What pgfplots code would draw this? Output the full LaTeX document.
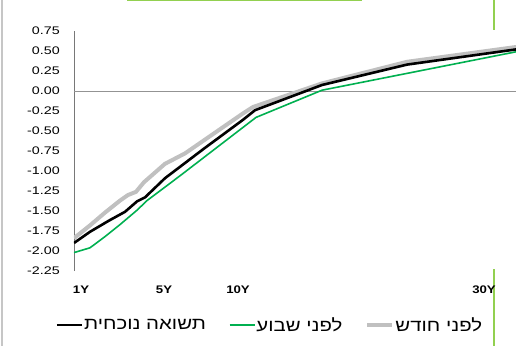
\documentclass[border=0pt]{standalone}
\usepackage{pgfplots}
\pgfplotsset{compat=1.18}
\usepackage{fontspec}
\setmainfont{Liberation Sans}
\newfontfamily\hebfont[Script=Hebrew]{Liberation Sans}
\TeXXeTstate=1
\definecolor{cgreen}{RGB}{0,176,80}
\definecolor{cgray}{RGB}{192,192,192}
\definecolor{fgreen}{RGB}{146,208,80}
\definecolor{axgray}{RGB}{120,120,120}
\newcommand{\heb}[1]{\scalebox{1.2}[1]{\hebfont\beginR #1\endR}}

\begin{document}
\begin{tikzpicture}
\useasboundingbox (-74pt,-75pt) rectangle (442pt,271pt);
\draw[fgreen, line width=1.5pt] (53pt,270.5pt) -- (288pt,270.5pt);
\draw[fgreen, line width=1.5pt] (420pt,271pt) -- (420pt,241pt);
\draw[fgreen, line width=1.5pt] (420pt,2pt) -- (420pt,-75pt);
\draw[gray!45, line width=1.5pt] (-72pt,271pt) -- (-72pt,-75pt);
\begin{axis}[
  at={(0pt,0pt)}, anchor=south west,
  width=442pt, height=240pt, scale only axis,
  xmin=0, xmax=442, ymin=-2.25, ymax=0.75,
  axis lines*=left,
  x axis line style={draw=none},
  y axis line style={draw=axgray, line width=0.8pt},
  major tick length=0pt,
  xtick={7,90,164,410},
  xticklabels={1Y,5Y,10Y,30Y},
  ytick={-2.25,-2,-1.75,-1.5,-1.25,-1,-0.75,-0.5,-0.25,0,0.25,0.5,0.75},
  /pgf/number format/assume math mode=true,
  /pgf/number format/fixed, /pgf/number format/fixed zerofill,
  /pgf/number format/precision=2,
  yticklabel style={font=\fontsize{11}{13}\selectfont, anchor=east, inner sep=0pt, xshift=-14pt, xscale=1.3},
  xticklabel style={font=\fontsize{11}{13}\selectfont\bfseries, anchor=center, inner sep=0pt, yshift=-19pt, xscale=1.2},
  extra y ticks={0}, extra y tick labels={},
  extra y tick style={grid=major, major grid style={draw=axgray!80, line width=0.8pt}},
  clip=true,
  legend columns=3,
  legend style={draw=none, fill=none, at={(0.442,-0.225)}, anchor=center,
    font=\fontsize{17}{19}\selectfont,
    nodes={inner xsep=1pt, inner ysep=1pt},
    /tikz/every even column/.append style={column sep=22pt}},
  legend image code/.code={\draw[#1] (0pt,0pt) -- (25pt,0pt);},
]
\addlegendimage{black, line width=2.6pt}
\addlegendentry{\heb{תשואה נוכחית}}
\addlegendimage{cgreen, line width=1.6pt}
\addlegendentry{\heb{לפני שבוע}}
\addlegendimage{cgray, line width=4pt}
\addlegendentry{\heb{לפני חודש}}

\addplot[forget plot, cgray, line width=4pt] coordinates {
(0,-1.84) (16,-1.68) (31,-1.52) (46,-1.37) (54,-1.30) (62,-1.26) (70,-1.14) (91,-0.91) (111,-0.78) (169,-0.28) (179,-0.20) (248,0.095) (333,0.365) (442,0.55)};
\addplot[forget plot, cgreen, line width=1.6pt] coordinates {
(0,-2.02) (16,-1.96) (31,-1.82) (46,-1.67) (63,-1.49) (73,-1.37) (106,-1.06) (182,-0.33) (248,0.01) (442,0.49)};
\addplot[forget plot, black, line width=2.6pt] coordinates {
(0,-1.90) (16,-1.76) (35,-1.62) (51,-1.51) (63,-1.38) (71,-1.33) (91,-1.09) (130,-0.72) (169,-0.36) (181,-0.24) (248,0.075) (333,0.33) (442,0.52)};
\end{axis}
\end{tikzpicture}
\end{document}
